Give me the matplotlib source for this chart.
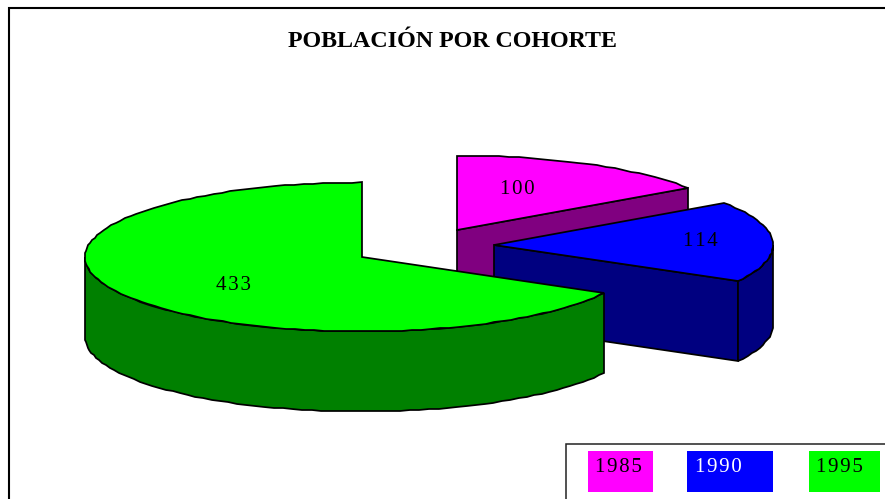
import numpy as np
import matplotlib
matplotlib.use("Agg")
import matplotlib.pyplot as plt
from matplotlib.patches import Polygon, Rectangle

plt.rcParams["font.family"] = ["Liberation Serif", "DejaVu Serif"]

years = ["1985", "1990", "1995"]
values = [100, 114, 433]
top_colors = ["#ff00ff", "#0000ff", "#00ff00"]
side_colors = ["#800080", "#000080", "#008000"]
text_colors = ["black", "white", "black"]

# pixel layout of the exploded slices
apex = [(457, 230), (494, 245), (362, 257)]
radius_x = [280, 279, 277]
label_xy = [(517, 189), (700, 242), (234, 286)]
swatches = [(588, 65, 595), (687, 86, 695), (809, 71, 816)]
RY, DEPTH = 74.5, 80
LW = 1.25


def spaced(s):
    return "\u200a".join(s)


def rim(center, rx, a0, a1):
    # a0 -> a1 in degrees, clockwise, coarse like the old renderer
    n = max(int(abs(a1 - a0) / 2), 2)
    t = np.radians(np.linspace(a0, a1, n))
    x = center[0] + rx * np.cos(t)
    y = center[1] - RY * np.sin(t)
    return np.column_stack([np.round(x), np.round(y)])


def wall(ax, pts, color):
    lower = pts[::-1] + [0, DEPTH]
    ax.add_patch(Polygon(np.vstack([pts, lower]), closed=True, fc=color, ec="black", lw=LW))


fig = plt.figure(figsize=(8.85, 4.99), dpi=100)
ax = fig.add_axes([0, 0, 1, 1])
ax.set_xlim(0, 885)
ax.set_ylim(499, 0)
ax.axis("off")

# frame
ax.plot([9, 9, 885], [499, 8, 8], color="black", lw=1.5, solid_joinstyle="miter")

total = sum(values)
angles = 90 - np.cumsum([0] + values) * 360 / total

for i in range(3):
    a0, a1 = angles[i], angles[i + 1]
    c = np.array(apex[i], dtype=float)
    arc = rim(c, radius_x[i], a0, a1)
    # cut face from the centre to the end of the arc, seen only on the right half
    if np.cos(np.radians(a1)) > 0:
        wall(ax, np.vstack([c, arc[-1]]), side_colors[i])
    # outer wall, only the part of the rim that faces the viewer
    start, stop = min(a0, 0), max(a1, -180)
    if start > stop:
        wall(ax, rim(c, radius_x[i], start, stop), side_colors[i])
    ax.add_patch(Polygon(np.vstack([c, arc]), closed=True, fc=top_colors[i], ec="black", lw=LW, joinstyle="miter"))
    ax.text(*label_xy[i], spaced(str(values[i])), ha="center", va="center", fontsize=15)

ax.text(452, 41, "POBLACIÓN POR COHORTE", ha="center", va="center", fontsize=17.3, fontweight="bold")

# legend
ax.plot([885, 566, 566], [444, 444, 499], color="#222222", lw=1.1, solid_joinstyle="miter")
for (x, w, tx), year, col, tc in zip(swatches, years, top_colors, text_colors):
    ax.add_patch(Rectangle((x, 451), w, 41, fc=col, ec="none"))
    ax.text(tx, 468, spaced(year), color=tc, ha="left", va="center", fontsize=15)

fig.savefig("out.png", dpi=100)
